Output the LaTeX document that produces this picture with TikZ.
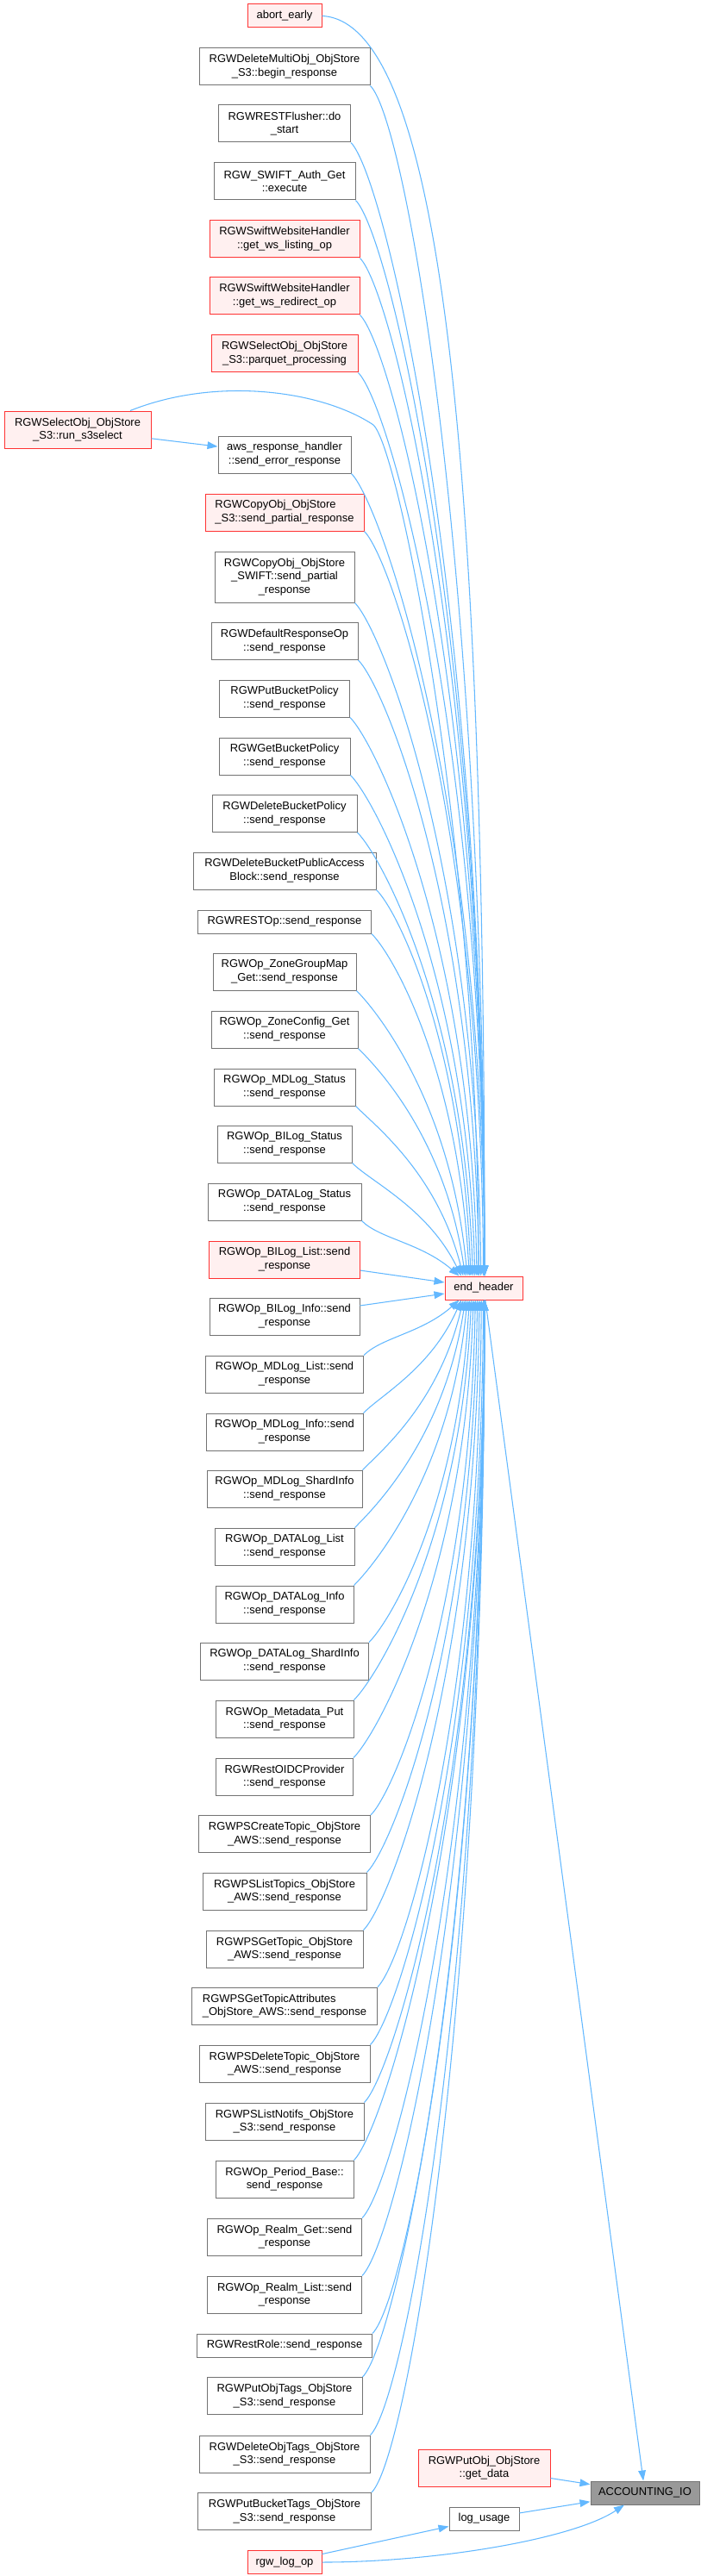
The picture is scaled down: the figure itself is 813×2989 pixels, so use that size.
\documentclass[tikz,border=0pt]{standalone}
\usepackage{fontspec}
\setmainfont{Liberation Sans}
\usetikzlibrary{arrows.meta, calc}
\definecolor{callblue}{HTML}{63B8FF}

\begin{document}
\begin{tikzpicture}[x=0.75pt,y=-0.75pt,>={Triangle[length=9pt,width=6.5pt]},
  fn/.style={draw=black!55,fill=white,line width=0.75pt,inner sep=0pt,align=center,
    font=\fontsize{9.7}{11.8}\selectfont},
  hot/.style={fn,draw=red!80,fill=red!6},
  one/.style={minimum height=20.25pt},
  two/.style={minimum height=32.25pt},
  three/.style={minimum height=44.25pt},
  wd/.style={minimum width=#1*0.75pt},
  call/.style={->,draw=callblue,line width=0.8pt}]
  \useasboundingbox (0,0) rectangle (813,2989);

  % callers above end_header
  \node[hot,one,wd=86]   (abort)      at (330,18.5)  {abort\_early};
  \node[fn,two,wd=198]   (delmulti)   at (330,77.5)  {RGWDeleteMultiObj\_ObjStore\\\_S3::begin\_response};
  \node[fn,two,wd=153]   (flusher)    at (330,143.5) {RGWRESTFlusher::do\\\_start};
  \node[fn,two,wd=164]   (swiftauth)  at (330,210.5) {RGW\_SWIFT\_Auth\_Get\\::execute};
  \node[hot,two,wd=174]  (wslisting)  at (330,277.5) {RGWSwiftWebsiteHandler\\::get\_ws\_listing\_op};
  \node[hot,two,wd=174]  (wsredirect) at (330,343.5) {RGWSwiftWebsiteHandler\\::get\_ws\_redirect\_op};
  \node[hot,two,wd=170]  (parquet)    at (330,410.5) {RGWSelectObj\_ObjStore\\\_S3::parquet\_processing};
  \node[hot,two,wd=170]  (runsel)     at (90,498.5)  {RGWSelectObj\_ObjStore\\\_S3::run\_s3select};
  \node[fn,two,wd=154]   (awserr)     at (330,527.5) {aws\_response\_handler\\::send\_error\_response};
  \node[hot,two,wd=184,align=left] (copys3) at (330,594.5) {RGWCopyObj\_ObjStore\\\_S3::send\_partial\_response};
  \node[fn,three,wd=162] (copyswift)  at (330,669.5) {RGWCopyObj\_ObjStore\\\_SWIFT::send\_partial\\\_response};
  \node[fn,two,wd=170]   (defresp)    at (330,744)   {RGWDefaultResponseOp\\::send\_response};
  \node[fn,two,wd=151]   (putbp)      at (330,810.5) {RGWPutBucketPolicy\\::send\_response};
  \node[fn,two,wd=152]   (getbp)      at (330,877.5) {RGWGetBucketPolicy\\::send\_response};
  \node[fn,two,wd=168]   (delbp)      at (330,944)   {RGWDeleteBucketPolicy\\::send\_response};
  \node[fn,two,wd=212]   (delpab)     at (330,1010.5) {RGWDeleteBucketPublicAccess\\Block::send\_response};
  \node[fn,one,wd=201]   (restop)     at (330,1069.5) {RGWRESTOp::send\_response};
  \node[fn,two,wd=166]   (zgmap)      at (330,1127.5) {RGWOp\_ZoneGroupMap\\\_Get::send\_response};
  \node[fn,two,wd=170]   (zconf)      at (330,1194.5) {RGWOp\_ZoneConfig\_Get\\::send\_response};
  \node[fn,two,wd=164]   (mdstat)     at (330,1261.5) {RGWOp\_MDLog\_Status\\::send\_response};
  \node[fn,two,wd=156]   (bistat)     at (330,1327.5) {RGWOp\_BILog\_Status\\::send\_response};
  \node[fn,two,wd=178]   (datastat)   at (330,1394.5) {RGWOp\_DATALog\_Status\\::send\_response};
  \node[hot,two,wd=175]  (bilist)     at (330,1461.5) {RGWOp\_BILog\_List::send\\\_response};
  \node[hot,one,wd=90]   (endh)       at (561,1494.5) {end\_header};
  % callers below end_header
  \node[fn,two,wd=174]   (biinfo)     at (330,1527.5) {RGWOp\_BILog\_Info::send\\\_response};
  \node[fn,two,wd=183]   (mdlist)     at (330,1594.5) {RGWOp\_MDLog\_List::send\\\_response};
  \node[fn,two,wd=182]   (mdinfo)     at (330,1661.5) {RGWOp\_MDLog\_Info::send\\\_response};
  \node[fn,two,wd=180]   (mdshard)    at (330,1727.5) {RGWOp\_MDLog\_ShardInfo\\::send\_response};
  \node[fn,two,wd=162]   (datalist)   at (330,1794.5) {RGWOp\_DATALog\_List\\::send\_response};
  \node[fn,two,wd=160]   (datainfo)   at (330,1861.5) {RGWOp\_DATALog\_Info\\::send\_response};
  \node[fn,two,wd=195]   (datashard)  at (330,1927.5) {RGWOp\_DATALog\_ShardInfo\\::send\_response};
  \node[fn,two,wd=160]   (metaput)    at (330,1994.5) {RGWOp\_Metadata\_Put\\::send\_response};
  \node[fn,two,wd=159]   (oidc)       at (330,2061.5) {RGWRestOIDCProvider\\::send\_response};
  \node[fn,two,wd=199]   (pscreate)   at (330,2128)   {RGWPSCreateTopic\_ObjStore\\\_AWS::send\_response};
  \node[fn,two,wd=190]   (pslist)     at (330,2194.5) {RGWPSListTopics\_ObjStore\\\_AWS::send\_response};
  \node[fn,two,wd=182]   (psget)      at (330,2261.5) {RGWPSGetTopic\_ObjStore\\\_AWS::send\_response};
  \node[fn,two,wd=215,align=left] (psattr) at (330,2327.5) {RGWPSGetTopicAttributes\\\_ObjStore\_AWS::send\_response};
  \node[fn,two,wd=198]   (psdel)      at (330,2394.5) {RGWPSDeleteTopic\_ObjStore\\\_AWS::send\_response};
  \node[fn,two,wd=184]   (psnotif)    at (330,2461.5) {RGWPSListNotifs\_ObjStore\\\_S3::send\_response};
  \node[fn,two,wd=160]   (period)     at (330,2528.5) {RGWOp\_Period\_Base::\\send\_response};
  \node[fn,two,wd=179]   (realmget)   at (330,2595.5) {RGWOp\_Realm\_Get::send\\\_response};
  \node[fn,two,wd=179]   (realmlist)  at (330,2662.5) {RGWOp\_Realm\_List::send\\\_response};
  \node[fn,one,wd=203]   (restrole)   at (330,2721.5) {RGWRestRole::send\_response};
  \node[fn,two,wd=180]   (putobjtags) at (330,2780)   {RGWPutObjTags\_ObjStore\\\_S3::send\_response};
  \node[fn,two,wd=198]   (delobjtags) at (330,2847.5) {RGWDeleteObjTags\_ObjStore\\\_S3::send\_response};
  \node[fn,two,wd=201]   (putbkttags) at (330,2914)   {RGWPutBucketTags\_ObjStore\\\_S3::send\_response};
  % bottom group
  \node[hot,two,wd=153]  (getdata)    at (561.5,2863.5) {RGWPutObj\_ObjStore\\::get\_data};
  \node[fn,one,wd=126,fill=black!40] (acct) at (748,2892.5) {ACCOUNTING\_IO};
  \node[fn,one,wd=81]    (logusage)   at (561.5,2922.5) {log\_usage};
  \node[hot,one,wd=86]   (logop)      at (330,2973)  {rgw\_log\_op};

  % edges into end_header from above
  \draw[call] (abort.east) .. controls +(147,7) and +(0,-878) .. ([xshift=0.75pt]endh.north);
  \foreach \src in {delmulti,flusher,swiftauth,wslisting,wsredirect,parquet,awserr,copys3,
      copyswift,defresp,putbp,getbp,delbp,delpab,restop,zgmap,zconf,mdstat,bistat,datastat}
    \draw[call] let \p1=(\src.south east), \p2=(endh.north),
        \n1={\y1-\y2}, \n2={\x2+min(0.75pt,-23pt+0.035*\n1)},
        \n3={15pt+0.015*\n1}, \n4={-0.5*(\n2-\x1)*exp(-\n1/200pt)} in
      (\p1) .. controls +(\n3,-\n3) and (\n2+\n4,\y2+0.6*\n1) .. (\n2,\y2);
  \coordinate (bendsel) at (433,493);
  \draw[call] ($(runsel.north)+(61,0)$) .. controls +(100,-40) and +(-60,-40) .. (bendsel)
    .. controls +(30,28) and +(0,-500) .. ([xshift=-4.5pt]endh.north);
  \draw[call] (runsel) -- (awserr);
  \draw[call] (bilist) -- (endh);
  \draw[call] (biinfo) -- (endh);
  % edges into end_header from below
  \foreach \src in {mdlist,mdinfo,mdshard,datalist,datainfo,datashard,metaput,oidc,pscreate,
      pslist,psget,psattr,psdel,psnotif,period,realmget,realmlist,restrole,putobjtags,
      delobjtags,putbkttags}
    \draw[call] let \p1=(\src.north east), \p2=(endh.south),
        \n1={\y2-\y1}, \n2={\x2+min(0.75pt,-23pt+0.035*\n1)},
        \n3={15pt+0.015*\n1}, \n4={-0.5*(\n2-\x1)*exp(-\n1/200pt)} in
      (\p1) .. controls +(\n3,\n3) and (\n2+\n4,\y2-0.6*\n1) .. (\n2,\y2);
  % edges into ACCOUNTING_IO
  \draw[call] (endh) -- (acct);
  \draw[call] (getdata) -- (acct);
  \draw[call] (logusage) -- (acct);
  \draw[call] (logop) -- (logusage);
  \draw[call] (logop.east) .. controls +(130,0) and +(-60,40) .. ([xshift=-18pt]acct.south);
\end{tikzpicture}
\end{document}
